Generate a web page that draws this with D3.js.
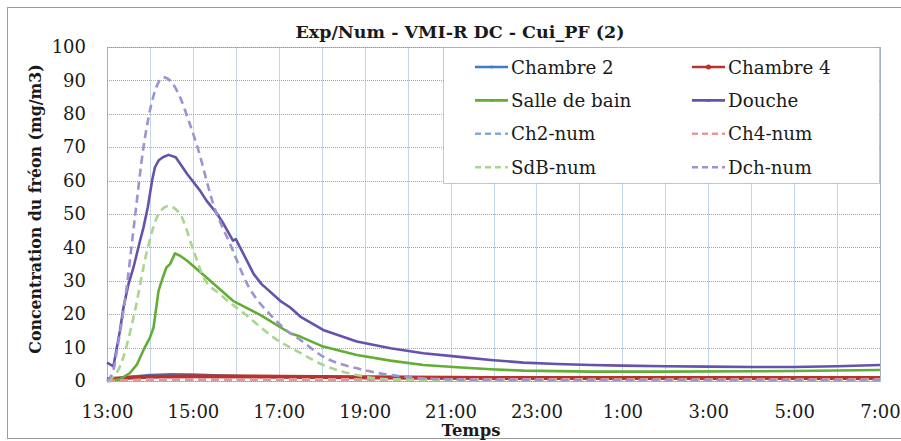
<!DOCTYPE html>
<html>
<head>
<meta charset="utf-8">
<script src="https://cdn.jsdelivr.net/npm/d3@7"></script>
<style>
  body { margin: 0; background: #fff; }
</style>
</head>
<body>
<div id="chart"></div>
<script>
// readings taken off the original figure, [clock time, mg/m3]
var chambre2 = [["13:00",0.3],["13:30",1.2],["14:00",1.8],["14:30",2.0],["15:00",1.9],["16:00",1.5],["17:00",1.2],["19:00",0.9],["23:00",0.7],["7:00",0.8]];
var chambre4 = [["13:00",0.5],["13:30",1.0],["14:00",1.3],["15:00",1.4],["17:00",1.3],["19:00",1.1],["22:00",0.9],["7:00",0.9]];
var salleDeBain = [["13:00",0],["13:18",0.5],["13:32",2.4],["13:42",5],["13:51",9.3],["14:00",13],["14:05",16],["14:12",27],["14:18",31],["14:23",34],["14:28",35],["14:35",38.2],["14:42",37.5],["14:52",36],["15:19",31],["15:56",24],["16:34",19.8],["17:16",14.3],["17:30",13.3],["18:02",10.3],["18:49",7.8],["19:36",6.1],["20:22",4.8],["21:09",4.1],["21:56",3.5],["22:42",3.1],["0:16",2.8],["2:00",2.8],["4:00",2.9],["5:00",3.0],["7:00",3.3]];
var douche = [["13:00",5.5],["13:09",4.4],["13:18",15],["13:23",22],["13:30",29],["13:37",34],["13:45",41],["13:51",46],["13:57",52],["14:03",60],["14:07",64],["14:12",66],["14:18",67],["14:26",67.7],["14:36",67],["14:52",62],["15:10",57],["15:19",54],["15:34",50],["15:43",47],["15:56",42],["16:00",42.5],["16:25",32],["16:36",29],["17:02",24],["17:16",22],["17:30",19.3],["18:02",15.3],["18:49",11.8],["19:36",9.8],["20:22",8.3],["21:09",7.3],["21:56",6.3],["22:42",5.5],["23:29",5.1],["0:16",4.8],["1:00",4.6],["2:00",4.4],["3:00",4.3],["4:00",4.2],["5:00",4.2],["6:00",4.4],["7:00",4.8]];
var ch2Num = [["13:00",0],["14:00",0.3],["16:00",0.4],["19:00",0.3],["7:00",0.3]];
var ch4Num = [["13:00",0],["14:30",0.5],["18:00",0.5],["7:00",0.4]];
var sdbNum = [["13:00",0],["13:18",4.3],["13:37",19],["13:56",39],["14:12",50],["14:26",52.4],["14:42",50],["15:01",39],["15:15",31],["15:38",26],["16:16",19.5],["16:53",13],["17:30",8.4],["18:02",4.8],["18:49",1.8],["19:36",0.5],["21:00",0.3],["7:00",0.3]];
var dchNum = [["13:00",0],["13:09",3.3],["13:14",9.3],["13:25",24],["13:39",49],["13:51",70],["14:00",81],["14:09",88],["14:19",90.9],["14:30",89.5],["14:42",85],["14:54",78],["15:05",71],["15:30",52],["15:52",41],["16:16",29],["16:52",19],["17:16",14.3],["17:30",12.3],["18:02",7.3],["18:49",3.8],["19:36",1.8],["20:22",0.8],["21:30",0.4],["1:00",0.3],["7:00",0.3]];

var seriesNames = ["Chambre 2", "Chambre 4", "Salle de bain", "Douche", "Ch2-num", "Ch4-num", "SdB-num", "Dch-num"];
var seriesData = [chambre2, chambre4, salleDeBain, douche, ch2Num, ch4Num, sdbNum, dchNum];
var seriesColors = ["#3d7cc9", "#b8322e", "#62ad36", "#6651ad", "#86a9dc", "#e39a97", "#a9d68c", "#9d92d2"];
var seriesDashed = [false, false, false, false, true, true, true, true];
var xTickLabels = ["13:00", "15:00", "17:00", "19:00", "21:00", "23:00", "1:00", "3:00", "5:00", "7:00"];
var yTicks = [0, 10, 20, 30, 40, 50, 60, 70, 80, 90, 100];

function toDate(s) {
  var p = s.split(":");
  var h = +p[0];
  return new Date(2000, 0, h < 13 ? 2 : 1, h, +p[1]);
}

var font = "'DejaVu Serif', serif";
var svg = d3.select("#chart").append("svg")
  .attr("width", 901)
  .attr("height", 441);

svg.append("rect")
  .attr("x", 7.5).attr("y", 7.5)
  .attr("width", 900).attr("height", 431)
  .attr("fill", "#fff")
  .attr("stroke", "#9a9a9a");

var x = d3.scaleTime()
  .domain([toDate("13:00"), toDate("7:00")])
  .range([107, 880]);
var y = d3.scaleLinear()
  .domain([0, 100])
  .range([381, 47]);

// grid
svg.append("g").selectAll("line")
  .data(x.ticks(d3.timeHour.every(1)))
  .enter().append("line")
  .attr("x1", function(d){ return Math.round(x(d)) + 0.5; })
  .attr("x2", function(d){ return Math.round(x(d)) + 0.5; })
  .attr("y1", y(100)).attr("y2", y(0))
  .attr("stroke", "#c3d8ea")
  .attr("stroke-width", 1);

svg.append("g").selectAll("line")
  .data(yTicks)
  .enter().append("line")
  .attr("x1", x.range()[0]).attr("x2", x.range()[1])
  .attr("y1", function(d){ return Math.round(y(d)) + 0.5; })
  .attr("y2", function(d){ return Math.round(y(d)) + 0.5; })
  .attr("stroke", "#9aa7b4")
  .attr("stroke-dasharray", "1,1");

svg.append("rect")
  .attr("x", 107.5).attr("y", 47.5)
  .attr("width", 773).attr("height", 334)
  .attr("fill", "none")
  .attr("stroke", "#8c8c8c")
  .attr("stroke-dasharray", "1,1");

// series
var line = d3.line()
  .x(function(d){ return x(toDate(d[0])); })
  .y(function(d){ return y(d[1]); });
var smoothLine = d3.line()
  .curve(d3.curveMonotoneX)
  .x(function(d){ return x(toDate(d[0])); })
  .y(function(d){ return y(d[1]); });

seriesData.forEach(function(data, i){
  svg.append("path")
    .attr("d", seriesDashed[i] ? smoothLine(data) : line(data))
    .attr("fill", "none")
    .attr("stroke", seriesColors[i])
    .attr("stroke-width", i === 1 ? 4 : 2.6)
    .attr("stroke-linejoin", "round")
    .attr("stroke-dasharray", seriesDashed[i] ? "8,5" : null);
});

// axes
var xAxis = svg.append("g")
  .attr("transform", "translate(0,381)")
  .call(d3.axisBottom(x)
    .tickValues(xTickLabels.map(toDate))
    .tickFormat(d3.timeFormat("%-H:%M"))
    .tickSize(0)
    .tickPadding(24));
xAxis.select(".domain").remove();
xAxis.selectAll("text")
  .attr("font-family", font)
  .attr("font-size", "18px")
  .attr("fill", "#1a1a1a");

var yAxis = svg.append("g")
  .attr("transform", "translate(107,0)")
  .call(d3.axisLeft(y)
    .tickValues(yTicks)
    .tickSize(0)
    .tickPadding(21));
yAxis.select(".domain").remove();
yAxis.selectAll("text")
  .attr("font-family", font)
  .attr("font-size", "18px")
  .attr("fill", "#1a1a1a");

// titles
svg.append("text")
  .attr("x", 460).attr("y", 38)
  .attr("text-anchor", "middle")
  .attr("font-family", font)
  .attr("font-weight", "bold")
  .attr("font-size", "17.5px")
  .attr("fill", "#1a1a1a")
  .text("Exp/Num - VMI-R DC - Cui_PF (2)");

svg.append("text")
  .attr("transform", "translate(41,209) rotate(-90)")
  .attr("text-anchor", "middle")
  .attr("font-family", font)
  .attr("font-weight", "bold")
  .attr("font-size", "15.8px")
  .attr("fill", "#1a1a1a")
  .text("Concentration du fréon (mg/m3)");

svg.append("text")
  .attr("x", 471).attr("y", 436)
  .attr("text-anchor", "middle")
  .attr("font-family", font)
  .attr("font-weight", "bold")
  .attr("font-size", "16.4px")
  .attr("fill", "#1a1a1a")
  .text("Temps");

// legend
var legend = svg.append("g");
legend.append("rect")
  .attr("x", 443.5).attr("y", 47.5)
  .attr("width", 436).attr("height", 136)
  .attr("fill", "#fff")
  .attr("stroke", "#8c8c8c")
  .attr("stroke-dasharray", "1,1");

var items = legend.selectAll("g.item")
  .data(seriesNames)
  .enter().append("g")
  .attr("class", "item")
  .attr("transform", function(d, i){
    var col = i % 2, row = Math.floor(i / 2);
    return "translate(" + (col === 0 ? 475 : 692) + "," + (67 + row * 33.4) + ")";
  });

items.append("line")
  .attr("x1", 0).attr("x2", 33)
  .attr("y1", 0).attr("y2", 0)
  .attr("stroke", function(d, i){ return seriesColors[i]; })
  .attr("stroke-width", 2.6)
  .attr("stroke-dasharray", function(d, i){ return seriesDashed[i] ? "6,4" : null; });

items.filter(function(d, i){ return !seriesDashed[i]; })
  .append("circle")
  .attr("cx", 16.5).attr("cy", 0)
  .attr("r", function(d, i){ return i === 1 ? 2.5 : 1.5; })
  .attr("fill", function(d, i){ return seriesColors[i]; });

items.append("text")
  .attr("x", 36)
  .attr("dy", "0.36em")
  .attr("font-family", font)
  .attr("font-size", "18.3px")
  .attr("fill", "#1a1a1a")
  .text(function(d){ return d; });
</script>
</body>
</html>
